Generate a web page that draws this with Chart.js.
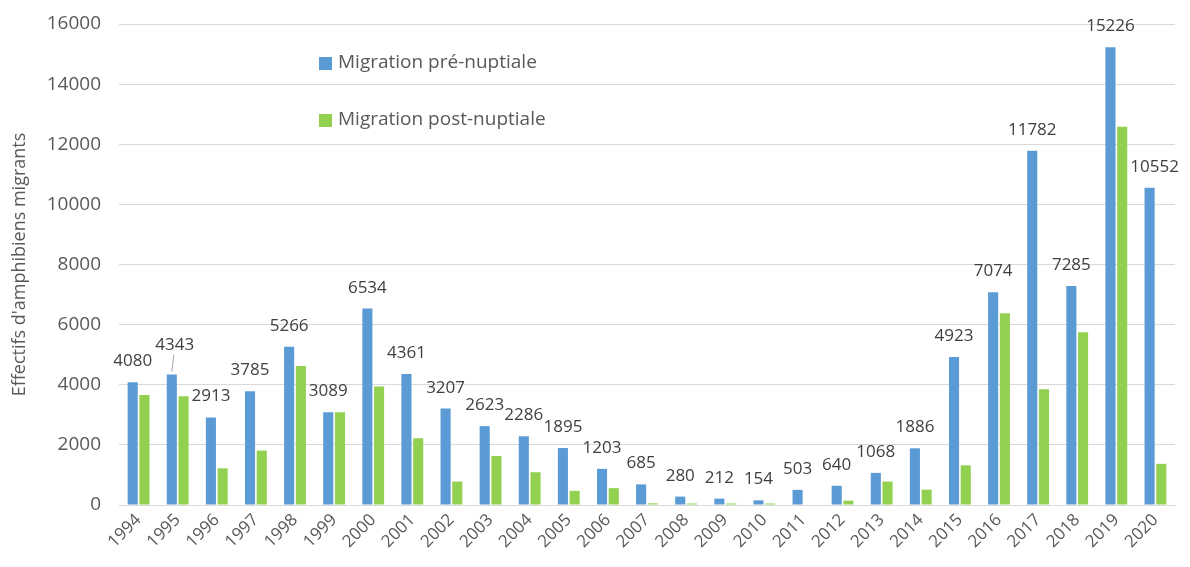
<!DOCTYPE html>
<html>
<head>
<meta charset="utf-8">
<script src="https://cdn.jsdelivr.net/npm/chart.js@4"></script>
<style>
  html, body { margin: 0; padding: 0; background: #fff; }
  #wrap { position: relative; width: 1190px; height: 567px; }
  #legend { position: absolute; left: 319px; top: 48px; font-family: "Open Sans", sans-serif; font-size: 19px; color: #595959; }
  #legend div { height: 57px; display: flex; align-items: flex-start; }
  #legend span.box { display: inline-block; width: 13px; height: 13px; margin-right: 6px; margin-top: 9px; }
</style>
</head>
<body>
<div id="wrap">
  <canvas id="chart" width="1190" height="567"></canvas>
  <div id="legend"></div>
</div>
<script>
const years = ['1994','1995','1996','1997','1998','1999','2000','2001','2002','2003','2004','2005','2006','2007',
               '2008','2009','2010','2011','2012','2013','2014','2015','2016','2017','2018','2019','2020'];
const preNuptiale = [4080, 4343, 2913, 3785, 5266, 3089, 6534, 4361, 3207, 2623, 2286, 1895, 1203, 685,
                     280, 212, 154, 503, 640, 1068, 1886, 4923, 7074, 11782, 7285, 15226, 10552];
const postNuptiale = [3660, 3620, 1220, 1810, 4620, 3089, 3940, 2220, 780, 1630, 1090, 470, 560, 55,
                      50, 50, 50, 0, 145, 780, 510, 1320, 6380, 3850, 5750, 12580, 1370];
const yTicks = [0, 2000, 4000, 6000, 8000, 10000, 12000, 14000, 16000];

const grey = '#595959';

// value labels above the blue bars
const barLabels = {
    id: 'barLabels',
    afterDatasetsDraw(chart) {
        const ctx = chart.ctx;
        const meta = chart.getDatasetMeta(0);
        ctx.save();
        ctx.font = '17px "Open Sans"';
        ctx.fillStyle = '#404040';
        ctx.textAlign = 'center';
        ctx.textBaseline = 'alphabetic';
        meta.data.forEach((bar, i) => {
            let x = bar.x, y = bar.y - 16;
            if (i === 1) {
                // 1995 label sits a bit higher with a leader line
                x = bar.x + 3;
                y = bar.y - 24;
                ctx.strokeStyle = '#a6a6a6';
                ctx.lineWidth = 1;
                ctx.beginPath();
                ctx.moveTo(bar.x + 2, y + 4);
                ctx.lineTo(bar.x, bar.y - 3);
                ctx.stroke();
            }
            if (i === meta.data.length - 1) x += 5;
            ctx.fillText(preNuptiale[i], x, y);
        });
        ctx.restore();
    }
};

const chart = new Chart(document.getElementById('chart'), {
    type: 'bar',
    data: {
        labels: years,
        datasets: [
            {
                label: 'Migration pré-nuptiale',
                data: preNuptiale,
                backgroundColor: '#5b9bd5',
                categoryPercentage: 0.6,
                barPercentage: 0.86
            },
            {
                label: 'Migration post-nuptiale',
                data: postNuptiale,
                backgroundColor: '#92d050',
                categoryPercentage: 0.6,
                barPercentage: 0.86
            }
        ]
    },
    options: {
        responsive: false,
        animation: false,
        layout: { padding: { top: 24, right: 15, left: 0, bottom: 0 } },
        plugins: {
            legend: { display: false },
            tooltip: { enabled: false }
        },
        scales: {
            x: {
                grid: { display: false, drawTicks: false },
                border: { color: '#d9d9d9' },
                ticks: {
                    color: grey,
                    font: { family: 'Open Sans', size: 17 },
                    minRotation: 45,
                    maxRotation: 45,
                    padding: 5,
                    autoSkip: false
                },
                afterFit(scale) { scale.height = 62; }
            },
            y: {
                min: 0,
                max: 16000,
                afterBuildTicks(scale) { scale.ticks = yTicks.map(v => ({ value: v })); },
                grid: { color: '#d9d9d9', drawTicks: false },
                border: { display: false },
                ticks: {
                    color: grey,
                    font: { family: 'Open Sans', size: 19 },
                    padding: 18,
                    callback: v => String(v)
                },
                title: {
                    display: true,
                    text: "Effectifs d'amphibiens migrants",
                    color: grey,
                    font: { family: 'Open Sans', size: 18 },
                    padding: { top: 9, bottom: 0 }
                },
                afterFit(scale) {
                    scale.width = 119;
                    scale.paddingTop = 0;
                    scale.paddingBottom = 0;
                }
            }
        }
    },
    plugins: [barLabels]
});

// legend inside the plot, built from the datasets
const legend = document.getElementById('legend');
chart.data.datasets.forEach(ds => {
    const row = document.createElement('div');
    const box = document.createElement('span');
    box.className = 'box';
    box.style.background = ds.backgroundColor;
    row.appendChild(box);
    row.appendChild(document.createTextNode(ds.label));
    legend.appendChild(row);
});
</script>
</body>
</html>
